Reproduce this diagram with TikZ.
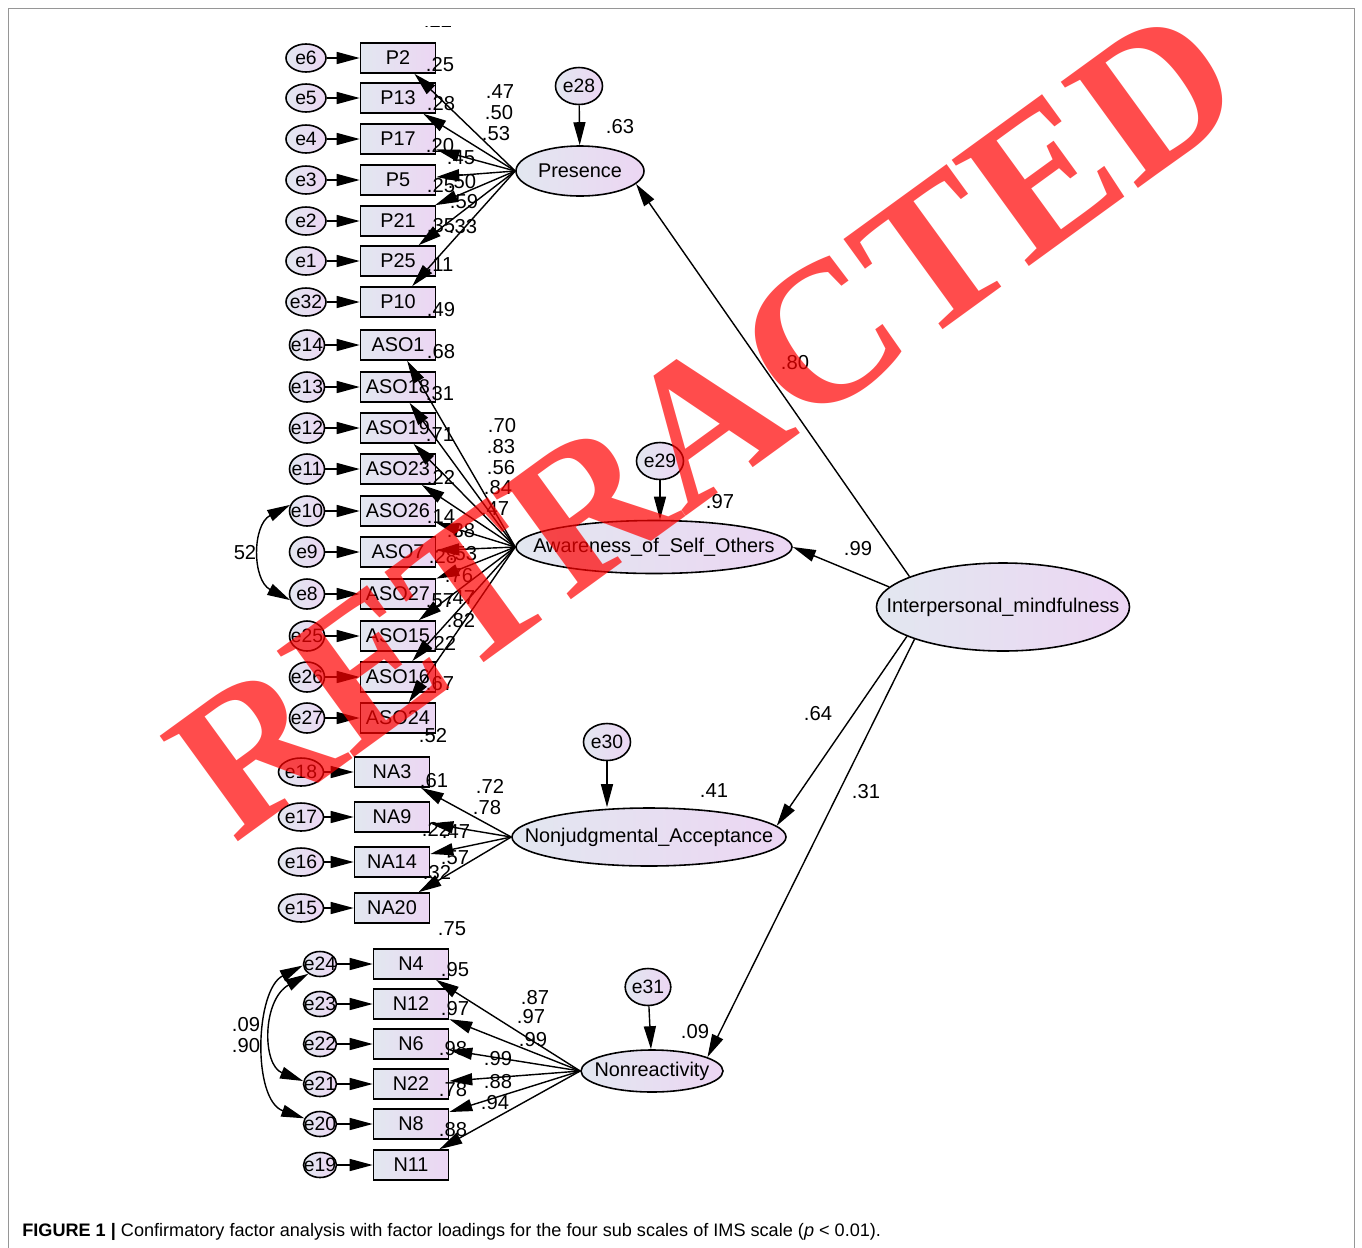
\documentclass[tikz,border=0pt]{standalone}
\usepackage{fontspec}
\setmainfont{Liberation Sans}
\newfontfamily\wmfont{Liberation Serif}
\usetikzlibrary{arrows.meta,shapes.geometric}

\definecolor{boxl}{RGB}{226,231,240}
\definecolor{boxr}{RGB}{236,214,243}
\definecolor{wmred}{RGB}{255,0,0}
\definecolor{framegray}{RGB}{150,150,150}

\begin{document}
\begin{tikzpicture}[x=0.2mm,y=-0.2mm,
	obs/.style={draw,line width=0.9pt,rectangle,minimum width=15mm,minimum height=6mm,inner sep=0pt,left color=boxl,right color=boxr,font=\fontsize{11.3}{12}\selectfont},
	err/.style={draw,line width=0.9pt,ellipse,minimum width=7.4mm,minimum height=5.8mm,inner sep=0pt,left color=boxl,right color=boxr,font=\fontsize{11}{12}\selectfont},
	lat/.style={draw,line width=0.9pt,ellipse,inner sep=0pt,left color=boxl,right color=boxr,font=\fontsize{11.3}{12}\selectfont},
	num/.style={inner sep=0pt,font=\fontsize{11.5}{12}\selectfont},
	pth/.style={-{Triangle[length=4.6mm,width=2.4mm]},line width=0.8pt},
	cov/.style={{Triangle[length=4.6mm,width=2.4mm]}-{Triangle[length=4.6mm,width=2.4mm]},line width=0.8pt}]
	
	\useasboundingbox (0,0) rectangle (1362,1248);
	\draw[framegray,line width=0.5pt] (8,1248) -- (8,8) -- (1354,8) -- (1354,1248);
	
	% indicators and their errors
	\foreach \v/\e/\y in {P2/e6/58,P13/e5/98,P17/e4/139,P5/e3/180,P21/e2/221,P25/e1/261,P10/e32/302}
	{
		\node[obs] (\v) at (398,\y) {\v};
		\node[err,minimum width=8mm,minimum height=5.6mm] (\e) at (306,\y) {\makebox[0pt]{\e}};
		\draw[pth] (\e) -- (\v);
	}
	\foreach \v/\e/\y in {ASO1/e14/345,ASO18/e13/387,ASO19/e12/428,ASO23/e11/469,ASO26/e10/511,ASO7/e9/552,ASO27/e8/594,ASO15/e25/636,ASO16/e26/677,ASO24/e27/718}
	{
		\node[obs] (\v) at (398,\y) {\v};
		\node[err,minimum width=7mm,minimum height=6mm] (\e) at (307,\y) {\makebox[0pt]{\e}};
		\draw[pth] (\e) -- (\v);
	}
	\foreach \v/\e/\y in {NA3/e18/772,NA9/e17/817,NA14/e16/862,NA20/e15/908}
	{
		\node[obs] (\v) at (392,\y) {\v};
		\node[err,minimum width=9mm,minimum height=5.6mm] (\e) at (301,\y) {\makebox[0pt]{\e}};
		\draw[pth] (\e) -- (\v);
	}
	\foreach \v/\e/\y in {N4/e24/964,N12/e23/1004,N6/e22/1044,N22/e21/1084,N8/e20/1124,N11/e19/1165}
	{
		\node[obs] (\v) at (411,\y) {\v};
		\node[err,minimum width=6.6mm,minimum height=5mm] (\e) at (320,\y) {\makebox[0pt]{\e}};
		\draw[pth] (\e) -- (\v);
	}
	
	% factors
	\node[lat,minimum width=25.6mm,minimum height=10mm] (Pres) at (580,171) {\makebox[0pt]{Presence}};
	\node[lat,minimum width=55.2mm,minimum height=10.6mm] (AwSO) at (654,547) {\makebox[0pt]{Awareness\_of\_Self\_Others}};
	\node[lat,minimum width=54.8mm,minimum height=11.6mm] (NjAc) at (649,837) {\makebox[0pt]{Nonjudgmental\_Acceptance}};
	\node[lat,minimum width=28.4mm,minimum height=8.4mm] (Nonr) at (652,1071) {\makebox[0pt]{Nonreactivity}};
	\node[lat,minimum width=50.6mm,minimum height=17.6mm] (IntM) at (1003,607) {\makebox[0pt]{Interpersonal\_mindfulness}};
	\node[err,minimum width=9.4mm,minimum height=7.4mm] (e28) at (579,86) {e28};
	\node[err,minimum width=9.4mm,minimum height=7.4mm] (e29) at (660,461) {e29};
	\node[err,minimum width=9.4mm,minimum height=7.4mm] (e30) at (607,742) {e30};
	\node[err,minimum width=8.8mm,minimum height=7.4mm] (e31) at (648,987) {e31};
	
	% estimates
	\begin{scope}
		\clip (400,26) rectangle (480,60);
		\node[num] (r0) at (438,20) {.22};
	\end{scope}
	\foreach \x/\y/\t [count=\k] in {440/65/.25,441/104/.28,440/146/.20,441/186/.25,441/226/.35,440/265/.11,441/310/.49,
		500/92/.47,499/113/.50,496/134/.53,461/158/.45,462/182/.50,464/202/.59,463/227/.33,620/127/.63,
		441/352/.68,440/394/.31,440/435/.71,441/477/.22,441/517/.14,443/557/.28,440/601/.57,442/643/.22,440/684/.67,433/736/.52,
		502/426/.70,501/447/.83,501/468/.56,498/488/.84,495/509/.47,461/531/.38,463/554/.53,459/576/.76,461/598/.47,461/621/.82,720/502/.97,
		434/781/.61,490/786/.72,487/808/.78,436/829/.22,456/832/.47,455/858/.57,437/873/.32,452/929/.75,714/791/.41,
		455/970/.95,455/1009/.97,453/1049/.98,453/1090/.78,453/1130/.88,
		535/998/.87,531/1017/.97,533/1040/.99,498/1059/.99,498/1082/.88,495/1103/.94,695/1032/.09,
		795/363/.80,858/549/.99,818/714/.64,866/792/.31,
		245/553/52,246/1025/.09,246/1046/.90}
	{
		\node[num] (r\k) at (\x,\y) {\t};
	}
	
	% loadings
	\foreach \v in {P2,P13,P17,P5,P21,P25,P10}
		\draw[pth] (Pres.west) -- (\v);
	\foreach \v in {ASO1,ASO18,ASO19,ASO23,ASO26,ASO7,ASO27,ASO15,ASO16,ASO24}
		\draw[pth] (AwSO.west) -- (\v);
	\foreach \v in {NA3,NA9,NA14,NA20}
		\draw[pth] (NjAc.west) -- (\v);
	\foreach \v in {N4,N12,N6,N22,N8,N11}
		\draw[pth] (Nonr.west) -- (\v);
	
	\draw[pth] (IntM.162) -- (Pres.-13);
	\draw[pth] (IntM.170) -- (AwSO.east);
	\draw[pth] (IntM.197) -- (NjAc.5);
	\draw[pth] (IntM.200) -- (Nonr.14);
	\draw[pth] (e28) -- (Pres);
	\draw[pth] (e29) -- (e29 |- AwSO.north);
	\draw[pth] (e30) -- (e30 |- NjAc.north);
	\draw[pth] (e31) -- (Nonr);
	
	% covariances
	\draw[cov] (e10.160) .. controls (252,525) and (252,580) .. (e8.200);
	\draw[cov] (e24.185) .. controls (255,990) and (252,1100) .. (e20.160);
	\draw[cov] (e24.220) .. controls (262,1000) and (262,1065) .. (e21.170);
	
	\node[anchor=west,inner sep=0pt,font=\fontsize{10.3}{12}\selectfont] (cap) at (22,1232) {\textbf{FIGURE 1 |} Confirmatory factor analysis with factor loadings for the four sub scales of IMS scale (\textit{p} < 0.01).};
	
	\node[rotate=36,text=wmred,text opacity=0.7,inner sep=0pt,font=\wmfont\bfseries\fontsize{114}{114}\selectfont] (wm) at (705,422) {RETRACTED};
\end{tikzpicture}
\end{document}
